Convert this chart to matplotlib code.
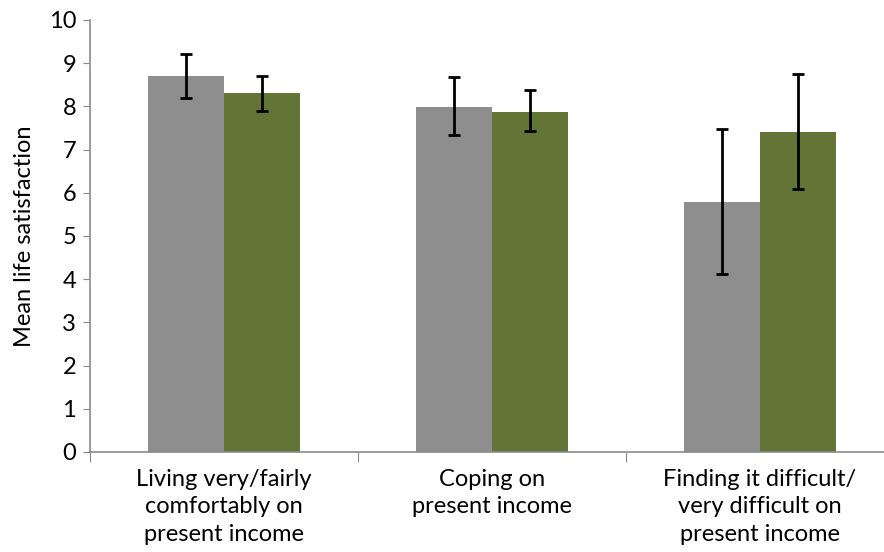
import matplotlib

matplotlib.use("Agg")
import matplotlib.pyplot as plt
import numpy as np

plt.rcParams["font.family"] = ["Lato", "DejaVu Sans"]

categories = [
    "Living very/fairly\ncomfortably on\npresent income",
    "Coping on\npresent income",
    "Finding it difficult/\nvery difficult on\npresent income",
]
gray_means = [8.70, 7.98, 5.79]
gray_low = [8.19, 7.33, 4.12]
gray_high = [9.21, 8.67, 7.47]
green_means = [8.30, 7.88, 7.41]
green_low = [7.89, 7.43, 6.09]
green_high = [8.70, 8.38, 8.74]

GRAY = "#8e8e8e"
GREEN = "#627436"
AXIS = "#8a8a8a"

fig = plt.figure(figsize=(8.84, 5.52), dpi=100)
ax = fig.add_axes([90 / 884, 100 / 552, 804 / 884, 432 / 552])

x = np.arange(len(categories))
w = 0.285


def err(means, low, high):
    m = np.array(means)
    return [m - np.array(low), np.array(high) - m]


ax.bar(x - w / 2, gray_means, w, color=GRAY,
       yerr=err(gray_means, gray_low, gray_high),
       error_kw=dict(ecolor="black", elinewidth=2, capsize=4, capthick=2))
ax.bar(x + w / 2, green_means, w, color=GREEN,
       yerr=err(green_means, green_low, green_high),
       error_kw=dict(ecolor="black", elinewidth=2, capsize=4, capthick=2))

ax.set_xlim(-0.5, 2.5)
ax.set_ylim(0, 10)
ax.set_yticks(range(0, 11))
ax.tick_params(axis="y", labelsize=17, length=5, color=AXIS, pad=5)

ax.set_xticks([-0.5, 0.5, 1.5, 2.5])
ax.set_xticklabels([])
ax.tick_params(axis="x", length=7, color=AXIS)
ax.set_xticks(x, minor=True)
ax.set_xticklabels(categories, minor=True, fontsize=17, linespacing=1.38)
ax.tick_params(axis="x", which="minor", length=0, pad=12)

for side in ["top", "right"]:
    ax.spines[side].set_visible(False)
for side in ["left", "bottom"]:
    ax.spines[side].set_color(AXIS)
    ax.spines[side].set_linewidth(1.2)

ax.set_ylabel("Mean life satisfaction", fontsize=17, labelpad=10)

fig.savefig("out.png", dpi=100)
